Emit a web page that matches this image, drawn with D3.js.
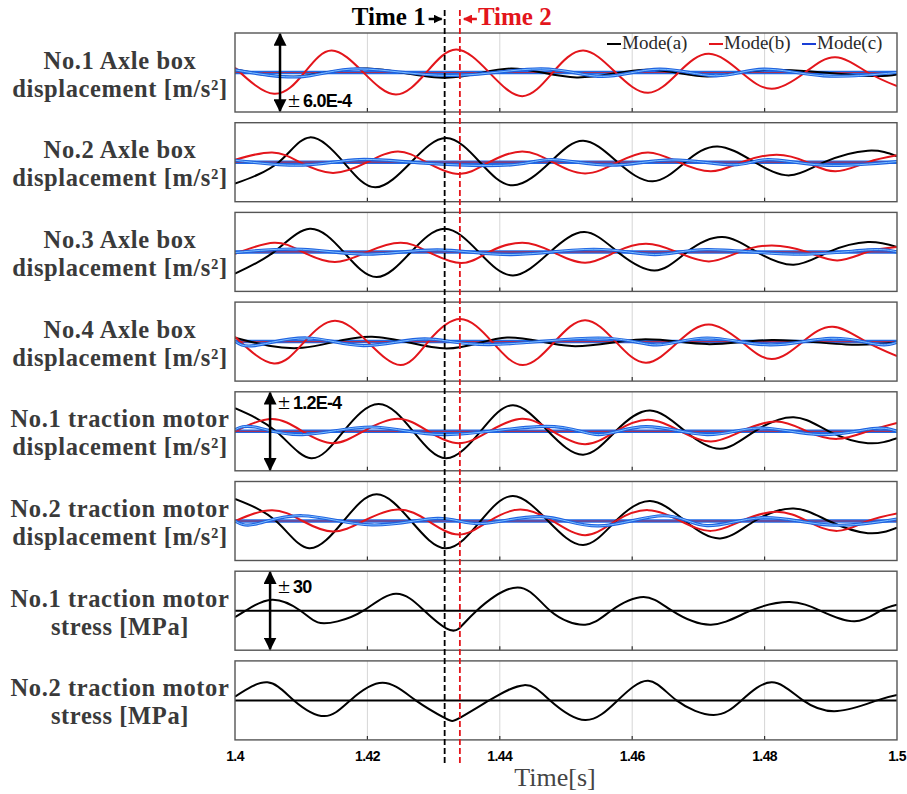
<!DOCTYPE html>
<html><head><meta charset="utf-8">
<script src="https://cdn.jsdelivr.net/npm/d3@7"></script>
<style>body{margin:0;background:#fff;} svg{display:block;}</style>
</head><body>
<svg id="chart" width="907" height="794"></svg>
<script>
// ---------------- DATA ----------------
const xTicks = [1.4, 1.42, 1.44, 1.46, 1.48, 1.5];
const tickLabels = ["1.4", "1.42", "1.44", "1.46", "1.48", "1.5"];
const gridTicks = [1.42, 1.44, 1.46, 1.48];
const time1 = 1.43167, time2 = 1.43397;
const seriesNames = ["Mode(a)", "Mode(b)", "Mode(c)"];
const seriesColors = ["#000000", "#e3151b", "#1f6be8"];
const panelLabels = [
  ["No.1 Axle box", "displacement [m/s²]"],
  ["No.2 Axle box", "displacement [m/s²]"],
  ["No.3 Axle box", "displacement [m/s²]"],
  ["No.4 Axle box", "displacement [m/s²]"],
  ["No.1 traction motor", "displacement [m/s²]"],
  ["No.2 traction motor", "displacement [m/s²]"],
  ["No.1 traction motor", "stress [MPa]"],
  ["No.2 traction motor", "stress [MPa]"]
];
// half-range of each panel (E-4 m/s² for 1-6, MPa for 7-8)
const panelRange = [6, 6, 6, 6, 1.2, 1.2, 30, 30];
const rangeNotes = [ {panel: 0, t: 1.4068, sym: "±", val: "6.0E-4", tt: 1.4080, v: -5.3},
                     {panel: 4, t: 1.4053, sym: "±", val: "1.2E-4", tt: 1.4065, v: 0.68},
                     {panel: 6, t: 1.4053, sym: "±", val: "30", tt: 1.4065, v: 13.5} ];

// Panel 1 (No.1 axle box), values in E-4
const p1_a = [[1.4000,0.5],[1.4095,-0.6],[1.4200,0.6],[1.4319,-0.8],[1.4417,0.6],[1.4516,-0.75],[1.4621,0.4],[1.4713,-0.6],[1.4805,0.4],[1.4943,-0.45],[1.5000,-0.3]];
const p1_b = [[1.4000,0.71],[1.4059,-3.24],[1.4105,0],[1.4146,3.34],[1.4194,0],[1.4243,-3.34],[1.4289,0],[1.4334,3.49],[1.4384,0],[1.4434,-3.59],[1.4480,0],[1.4526,3.34],[1.4575,0],[1.4624,-3.09],[1.4670,0],[1.4716,2.83],[1.4765,0],[1.4811,-2.48],[1.4861,0],[1.4907,2.33],[1.4956,0],[1.5000,-2.07]];
const p1_c = [[1.4000,0.4],[1.4099,-0.65],[1.4187,0.55],[1.4325,-0.45],[1.4463,0.55],[1.4555,-0.6],[1.4641,0.5],[1.4726,-0.5],[1.4798,0.5],[1.4889,-0.5],[1.5000,0]];
// Panel 2
const p2_a = [[1.4000,-3.26],[1.4066,0],[1.4113,3.77],[1.4164,0],[1.4212,-3.82],[1.4266,0],[1.4319,3.67],[1.4370,0],[1.4420,-3.52],[1.4476,0],[1.4526,3.26],[1.4578,0],[1.4631,-2.91],[1.4680,0],[1.4729,2.40],[1.4785,0],[1.4838,-2.0],[1.4890,0],[1.4956,1.75],[1.5000,0.89]];
const p2_b = [[1.4000,0.38],[1.4056,1.49],[1.4098,0],[1.4148,-1.64],[1.4200,0],[1.4246,1.64],[1.4289,0],[1.4338,-1.80],[1.4384,0],[1.4434,1.64],[1.4480,0],[1.4529,-1.70],[1.4578,0],[1.4624,1.49],[1.4670,0],[1.4719,-1.39],[1.4765,0],[1.4818,1.14],[1.4864,0],[1.4907,-1.39],[1.4956,0],[1.5000,1.04]];
const p2_c = [[1.4000,0.3],[1.4102,-0.45],[1.4187,0.4],[1.4286,-0.15],[1.4417,-0.4],[1.4480,0.4],[1.4568,-0.45],[1.4660,0.35],[1.4752,-0.4],[1.4805,0.4],[1.4889,-0.45],[1.5000,0.1]];
// Panel 3
const p3_a = [[1.4000,-3.3],[1.4059,0],[1.4113,3.52],[1.4164,0],[1.4214,-3.82],[1.4266,0],[1.4317,3.52],[1.4368,0],[1.4420,-3.57],[1.4476,0],[1.4528,3.01],[1.4578,0],[1.4634,-2.81],[1.4683,0],[1.4736,2.25],[1.4788,0],[1.4844,-1.95],[1.4897,0],[1.4956,1.49],[1.5000,0.73]];
const p3_b = [[1.4000,-0.28],[1.4059,1.39],[1.4102,0],[1.4151,-1.54],[1.4200,0],[1.4250,1.39],[1.4292,0],[1.4342,-1.70],[1.4384,0],[1.4434,1.39],[1.4480,0],[1.4529,-1.64],[1.4575,0],[1.4621,1.24],[1.4667,0],[1.4716,-1.44],[1.4762,0],[1.4811,0.99],[1.4864,0],[1.4910,-1.29],[1.4956,0],[1.5000,0.73]];
const p3_c = [[1.4000,-0.1],[1.4102,0.4],[1.4200,-0.35],[1.4306,0.3],[1.4417,-0.4],[1.4542,0.4],[1.4634,-0.4],[1.4713,0.35],[1.4844,-0.35],[1.4956,0.3],[1.5000,0]];
// Panel 4
const p4_a = [[1.4000,0.58],[1.4102,-0.94],[1.4207,0.73],[1.4319,-1.04],[1.4411,0.63],[1.4509,-0.68],[1.4614,0.33],[1.4713,-0.38],[1.4811,0.23],[1.4923,-0.43],[1.5000,-0.15]];
const p4_b = [[1.4000,0.73],[1.4059,-3.31],[1.4105,0],[1.4151,3.16],[1.4200,0],[1.4250,-3.57],[1.4292,0],[1.4340,3.42],[1.4388,0],[1.4435,-3.57],[1.4483,0],[1.4529,3.26],[1.4575,0],[1.4621,-3.21],[1.4670,0],[1.4716,2.61],[1.4765,0],[1.4811,-2.66],[1.4858,0],[1.4903,2.25],[1.4953,0],[1.5000,-2.2]];
const p4_c = [[1.4000,0.1],[1.4030,-0.6],[1.4108,0.55],[1.4194,-0.6],[1.4286,0.4],[1.4384,-0.45],[1.4549,0.55],[1.4637,-0.5],[1.4713,0.55],[1.4808,-0.5],[1.4900,0.5],[1.4969,-0.4],[1.5000,-0.1]];
// Panel 5 (No.1 traction motor displacement), values in E-4
const p5_a = [[1.4000,0.70],[1.4062,0],[1.4115,-0.82],[1.4164,0],[1.4217,0.83],[1.4269,0],[1.4319,-0.82],[1.4371,0],[1.4420,0.79],[1.4473,0],[1.4526,-0.71],[1.4575,0],[1.4627,0.63],[1.4680,0],[1.4733,-0.53],[1.4785,0],[1.4844,0.43],[1.4897,0],[1.4956,-0.36],[1.5000,-0.21]];
const p5_b = [[1.4000,0],[1.4056,0.37],[1.4102,0],[1.4148,-0.36],[1.4194,0],[1.4246,0.38],[1.4292,0],[1.4338,-0.36],[1.4384,0],[1.4434,0.38],[1.4480,0],[1.4529,-0.39],[1.4575,0],[1.4624,0.35],[1.4673,0],[1.4719,-0.31],[1.4765,0],[1.4818,0.30],[1.4864,0],[1.4910,-0.23],[1.4956,0],[1.5000,0.25]];
const p5_c = [[1.4000,0.05],[1.4030,0.13],[1.4102,-0.1],[1.4207,0.13],[1.4319,-0.1],[1.4470,0.15],[1.4549,-0.1],[1.4621,0.14],[1.4713,-0.1],[1.4792,0.1],[1.4884,-0.1],[1.4963,0.08],[1.5000,0]];
// Panel 6
const p6_a = [[1.4000,0.67],[1.4062,0],[1.4112,-0.83],[1.4164,0],[1.4214,0.81],[1.4266,0],[1.4319,-0.83],[1.4371,0],[1.4420,0.76],[1.4473,0],[1.4526,-0.73],[1.4575,0],[1.4627,0.61],[1.4680,0],[1.4733,-0.53],[1.4785,0],[1.4844,0.38],[1.4897,0],[1.4956,-0.37],[1.5000,-0.2]];
const p6_b = [[1.4000,0],[1.4056,0.33],[1.4102,0],[1.4148,-0.32],[1.4194,0],[1.4246,0.35],[1.4292,0],[1.4338,-0.41],[1.4384,0],[1.4431,0.35],[1.4480,0],[1.4529,-0.43],[1.4575,0],[1.4624,0.33],[1.4673,0],[1.4719,-0.30],[1.4765,0],[1.4818,0.28],[1.4864,0],[1.4910,-0.30],[1.4956,0],[1.5000,0.23]];
const p6_c = [[1.4000,0],[1.4030,-0.1],[1.4102,0.16],[1.4207,-0.12],[1.4306,0.08],[1.4371,-0.08],[1.4463,0.13],[1.4549,-0.15],[1.4647,0.16],[1.4713,-0.14],[1.4798,0.1],[1.4897,-0.12],[1.5000,0.06]];
// Panel 7 (No.1 traction motor stress), MPa
const p7_a = [[1.4000,-4.8],[1.4016,0],[1.4056,8.4],[1.4099,0],[1.4125,-8.9],[1.4155,-8.1],[1.4194,0],[1.4243,12.9],[1.4286,0],[1.4319,-13.4],[1.4338,-13.7],[1.4365,0],[1.4427,17.7],[1.4476,0],[1.4529,-10.6],[1.4568,0],[1.4617,10.4],[1.4660,0],[1.4719,-10.6],[1.4779,0],[1.4838,6.6],[1.4884,0],[1.4936,-8.1],[1.4975,0],[1.5000,4.6]];
// Panel 8 (No.2 traction motor stress), MPa
const p8_a = [[1.4000,2.8],[1.4049,13.7],[1.4089,0],[1.4135,-11.9],[1.4174,0],[1.4223,13.4],[1.4273,0],[1.4318,-13.7],[1.4338,-13.7],[1.4384,0],[1.4437,11.6],[1.4476,0],[1.4529,-14.9],[1.4578,0],[1.4624,14.9],[1.4667,0],[1.4723,-11.1],[1.4765,0],[1.4811,13.7],[1.4858,0],[1.4910,-8.1],[1.4970,0],[1.5000,4.1]];

const panelSeries = [
  [p1_a, p1_b, p1_c], [p2_a, p2_b, p2_c], [p3_a, p3_b, p3_c], [p4_a, p4_b, p4_c],
  [p5_a, p5_b, p5_c], [p6_a, p6_b, p6_c], [p7_a], [p8_a]
];

// ---------------- LAYOUT ----------------
const left = 235, right = 897;
const top0 = 33, step = 89.7, ph = 79;
const svg = d3.select("#chart");
const x = d3.scaleLinear().domain([1.4, 1.5]).range([left, right]);
const serif = "'Liberation Serif','Times New Roman',serif";
const sans = "'Liberation Sans',Arial,sans-serif";

const defs = svg.append("defs");
function marker(id, color, size) {
  defs.append("marker").attr("id", id).attr("viewBox", "0 0 10 10")
    .attr("refX", 9).attr("refY", 5).attr("markerWidth", size).attr("markerHeight", size)
    .attr("markerUnits", "userSpaceOnUse").attr("orient", "auto-start-reverse")
    .append("path").attr("d", "M0,0 L10,5 L0,10 z").attr("fill", color);
}
marker("arrBig", "#000", 13);
marker("arrSmK", "#000", 9);
marker("arrSmR", "#e3151b", 9);

const line = d3.line().curve(d3.curveNatural);

panelSeries.forEach((series, i) => {
  const top = top0 + i * step;
  const A = panelRange[i];
  const y = d3.scaleLinear().domain([-A, A]).range([top + ph, top]);
  const g = svg.append("g");
  const cid = "clip" + i;
  defs.append("clipPath").attr("id", cid).append("rect")
    .attr("x", left).attr("y", top).attr("width", right - left).attr("height", ph);

  g.selectAll(".grid").data(gridTicks).enter().append("line")
    .attr("x1", d => x(d)).attr("x2", d => x(d)).attr("y1", top).attr("y2", top + ph)
    .attr("stroke", "#d6d6d6").attr("stroke-width", 1);
  g.selectAll(".tk").data(gridTicks).enter().append("line")
    .attr("x1", d => x(d)).attr("x2", d => x(d)).attr("y1", top + ph).attr("y2", top + ph - 4)
    .attr("stroke", "#333").attr("stroke-width", 1.2);

  const cg = g.append("g").attr("clip-path", `url(#${cid})`);
  if (series.length === 1) {
    cg.append("line").attr("x1", left).attr("x2", right).attr("y1", y(0)).attr("y2", y(0))
      .attr("stroke", "#000").attr("stroke-width", 2);
  } else {
    cg.append("line").attr("x1", left).attr("x2", right).attr("y1", y(0)).attr("y2", y(0))
      .attr("stroke", seriesColors[2]).attr("stroke-width", 3.5);
    cg.append("line").attr("x1", left).attr("x2", right).attr("y1", y(0)).attr("y2", y(0))
      .attr("stroke", seriesColors[1]).attr("stroke-width", 1.2).attr("stroke-opacity", 0.7);
  }
  line.x(d => x(d[0])).y(d => y(d[1]));
  series.forEach((s, k) => {
    if (k === 2) {
      cg.append("path").attr("d", line(s)).attr("fill", "none")
        .attr("stroke", "#1f62e0").attr("stroke-width", 3.2);
      cg.append("path").attr("d", line(s)).attr("fill", "none")
        .attr("stroke", "#7fc0ff").attr("stroke-width", 1);
    } else {
      cg.append("path").attr("d", line(s)).attr("fill", "none")
        .attr("stroke", seriesColors[k]).attr("stroke-width", 2);
    }
  });
  g.append("rect").attr("x", left).attr("y", top).attr("width", right - left).attr("height", ph)
    .attr("fill", "none").attr("stroke", "#555").attr("stroke-width", 1.4);

  const cy = top + ph / 2;
  const lab = svg.append("text").attr("x", 120).attr("text-anchor", "middle")
    .attr("font-family", serif).attr("font-weight", "bold").attr("font-size", 24.5)
    .attr("letter-spacing", 0.6).attr("fill", "#3a3a3a");
  lab.append("tspan").attr("x", 120).attr("y", cy - 4).text(panelLabels[i][0]);
  lab.append("tspan").attr("x", 120).attr("y", cy + 24).text(panelLabels[i][1]);

  rangeNotes.filter(n => n.panel === i).forEach(n => {
    svg.append("line").attr("x1", x(n.t)).attr("x2", x(n.t))
      .attr("y1", y(A) + 1).attr("y2", y(-A) - 1)
      .attr("stroke", "#000").attr("stroke-width", 2.5)
      .attr("marker-start", "url(#arrBig)").attr("marker-end", "url(#arrBig)");
    const t = svg.append("text").attr("x", x(n.tt)).attr("y", y(n.v)).attr("fill", "#000")
      .attr("font-family", sans).attr("font-weight", "bold").attr("font-size", "18px");
    t.append("tspan").attr("font-family", serif).attr("font-weight", "normal").attr("font-size", "22px").text(n.sym);
    t.append("tspan").attr("dx", 3).attr("letter-spacing", -0.8).text(n.val);
  });
});

// legend in panel 1
const legX = [607, 709, 802];
const legendColors = ["#000", "#e3151b", "#1a3fd6"];
seriesNames.forEach((nm, k) => {
  svg.append("line").attr("x1", legX[k]).attr("x2", legX[k] + 14).attr("y1", 44).attr("y2", 44)
    .attr("stroke", legendColors[k]).attr("stroke-width", 2);
  svg.append("text").attr("x", legX[k] + 15).attr("y", 49).attr("font-family", serif)
    .attr("font-size", 19).attr("fill", "#2a2a2a").text(nm);
});

// x-axis labels
svg.selectAll(".xl").data(xTicks).enter().append("text")
  .attr("x", d => x(d)).attr("y", 761).attr("text-anchor", "middle")
  .attr("font-family", sans).attr("font-weight", "bold").attr("font-size", 14)
  .attr("letter-spacing", -0.6).attr("fill", "#000")
  .text((d, i) => tickLabels[i]);
svg.append("text").attr("x", 555).attr("y", 786).attr("text-anchor", "middle")
  .attr("font-family", serif).attr("font-size", 26).attr("fill", "#444").text("Time[s]");

// time markers
svg.append("line").attr("x1", x(time1)).attr("x2", x(time1)).attr("y1", 10).attr("y2", 764)
  .attr("stroke", "#000").attr("stroke-width", 1.8).attr("stroke-dasharray", "6,3");
svg.append("line").attr("x1", x(time2)).attr("x2", x(time2)).attr("y1", 10).attr("y2", 764)
  .attr("stroke", "#e3151b").attr("stroke-width", 1.8).attr("stroke-dasharray", "6,3");

svg.append("text").attr("x", x(time1) - 19).attr("y", 25).attr("text-anchor", "end")
  .attr("font-family", serif).attr("font-weight", "bold").attr("font-size", 25).attr("fill", "#000").text("Time 1");
svg.append("line").attr("x1", x(time1) - 16).attr("x2", x(time1) - 3).attr("y1", 19).attr("y2", 19)
  .attr("stroke", "#000").attr("stroke-width", 2.5).attr("marker-end", "url(#arrSmK)");
svg.append("line").attr("x1", x(time2) + 17).attr("x2", x(time2) + 4).attr("y1", 19).attr("y2", 19)
  .attr("stroke", "#e3151b").attr("stroke-width", 2.5).attr("marker-end", "url(#arrSmR)");
svg.append("text").attr("x", x(time2) + 18).attr("y", 25).attr("text-anchor", "start")
  .attr("font-family", serif).attr("font-weight", "bold").attr("font-size", 25).attr("fill", "#e3151b").text("Time 2");
</script>
</body></html>
